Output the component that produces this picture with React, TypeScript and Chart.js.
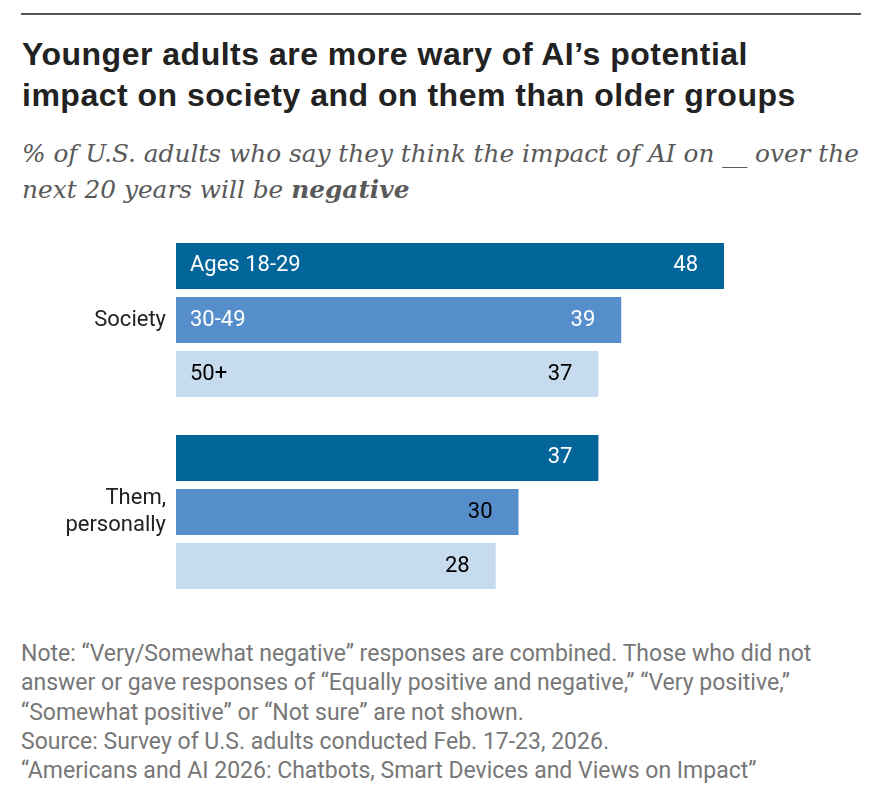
import React, { useEffect, useRef } from "react";
import { Chart, registerables } from "chart.js";

Chart.register(...registerables);

const categories: (string | string[])[] = ["Society", ["Them,", "personally"]];
const ageGroups = ["Ages 18-29", "30-49", "50+"];
const ages1829 = [48, 37];
const ages3049 = [39, 30];
const ages50plus = [37, 28];
const seriesValues = [ages1829, ages3049, ages50plus];

const barColors = ["#03669a", "#568ecb", "#c6dbee"];
const groupLabelColors = ["#ffffff", "#ffffff", "#000000"];
const valueColors = [
  ["#ffffff", "#ffffff"],
  ["#ffffff", "#000000"],
  ["#000000", "#000000"],
];

const SANS = 'Roboto, "Liberation Sans", sans-serif';
const TITLE_SANS = '"Liberation Sans", Arial, sans-serif';
const SERIF = '"DejaVu Serif", Georgia, serif';

const barTextPlugin = {
  id: "barText",
  afterDatasetsDraw(chart: any) {
    const ctx = chart.ctx;
    ctx.save();
    ctx.font = `22px ${SANS}`;
    ctx.textBaseline = "middle";
    chart.data.datasets.forEach((ds: any, di: number) => {
      const meta = chart.getDatasetMeta(di);
      meta.data.forEach((bar: any, ci: number) => {
        const { x, y, base } = bar.getProps(["x", "y", "base"], true);
        if (ci === 0) {
          ctx.fillStyle = groupLabelColors[di];
          ctx.textAlign = "left";
          ctx.fillText(ds.label, base + 14, y);
        }
        ctx.fillStyle = valueColors[di][ci];
        ctx.textAlign = "right";
        ctx.fillText(String(ds.data[ci]), x - 26, y);
      });
    });
    ctx.restore();
  },
};

export default function App() {
  const canvasRef = useRef<HTMLCanvasElement | null>(null);

  useEffect(() => {
    document.body.style.margin = "0";
    const canvas = canvasRef.current;
    if (!canvas) return;
    const chart = new Chart(canvas, {
      type: "bar",
      data: {
        labels: categories as any,
        datasets: ageGroups.map((label, i) => ({
          label,
          data: seriesValues[i],
          backgroundColor: barColors[i],
          borderWidth: 0,
          categoryPercentage: 0.844,
          barPercentage: 0.852,
        })),
      },
      options: {
        indexAxis: "y",
        responsive: false,
        animation: false,
        devicePixelRatio: 1,
        layout: { padding: { left: 0, right: 29, top: 0, bottom: 0 } },
        plugins: {
          legend: { display: false },
          tooltip: { enabled: false },
        },
        scales: {
          x: {
            display: false,
            min: 0,
            max: 60,
          },
          y: {
            grid: { display: false, drawTicks: false },
            border: { display: false },
            ticks: {
              color: "#222222",
              font: { family: SANS, size: 22, lineHeight: 1.2 },
              padding: 10,
            },
            afterFit(scale: any) {
              scale.width = 176;
              scale.paddingTop = 0;
              scale.paddingBottom = 0;
            },
          },
        },
      },
      plugins: [barTextPlugin],
    });
    return () => chart.destroy();
  }, []);

  return (
    <div style={{ position: "relative", width: 890, height: 804, background: "#fff" }}>
      <div style={{ position: "absolute", left: 21, top: 13, width: 840, height: 2, background: "#555" }} />
      <div
        style={{
          position: "absolute",
          left: 22,
          top: 34,
          fontFamily: TITLE_SANS,
          fontWeight: "bold",
          fontSize: 32,
          letterSpacing: "0.5px",
          lineHeight: "41px",
          color: "#222",
          whiteSpace: "nowrap",
        }}
      >
        Younger adults are more wary of AI’s potential
        <br />
        impact on society and on them than older groups
      </div>
      <div
        style={{
          position: "absolute",
          left: 22,
          top: 136,
          fontFamily: SERIF,
          fontStyle: "italic",
          fontSize: 24.8,
          lineHeight: "36px",
          color: "#595959",
          whiteSpace: "nowrap",
        }}
      >
        % of U.S. adults who say they think the impact of AI on __ over the
        <br />
        next 20 years will be <b>negative</b>
      </div>
      <canvas
        ref={canvasRef}
        width={890}
        height={384}
        style={{ position: "absolute", left: 0, top: 224, width: 890, height: 384 }}
      />
      <div
        style={{
          position: "absolute",
          left: 21,
          top: 639,
          fontFamily: SANS,
          fontSize: 23,
          lineHeight: "29.3px",
          color: "#777",
          whiteSpace: "nowrap",
        }}
      >
        Note: “Very/Somewhat negative” responses are combined. Those who did not
        <br />
        answer or gave responses of “Equally positive and negative,” “Very positive,”
        <br />
        “Somewhat positive” or “Not sure” are not shown.
        <br />
        Source: Survey of U.S. adults conducted Feb. 17-23, 2026.
        <br />
        “Americans and AI 2026: Chatbots, Smart Devices and Views on Impact”
      </div>
    </div>
  );
}
